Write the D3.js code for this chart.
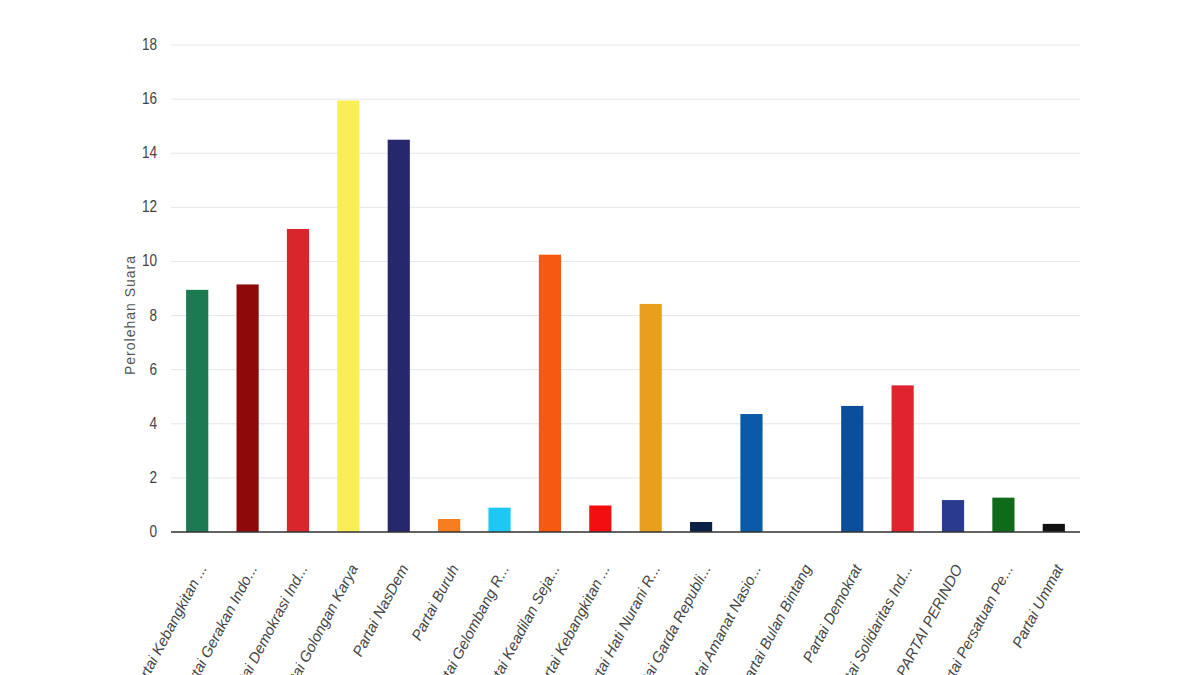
<!DOCTYPE html><html><head><meta charset="utf-8"><script src="https://cdn.jsdelivr.net/npm/d3@7"></script>
<style>body{margin:0;background:#fff}text{font-family:"Liberation Sans",Arial,sans-serif}</style></head><body><svg id="c" width="1200" height="675"></svg><script>
const categories=["Partai Kebangkitan ...","Partai Gerakan Indo...","Partai Demokrasi Ind...","Partai Golongan Karya","Partai NasDem","Partai Buruh","Partai Gelombang R...","Partai Keadilan Seja...","Partai Kebangkitan ...","Partai Hati Nurani R...","Partai Garda Republi...","Partai Amanat Nasio...","Partai Bulan Bintang","Partai Demokrat","Partai Solidaritas Ind...","PARTAI PERINDO","Partai Persatuan Pe...","Partai Ummat"];
const values=[8.95,9.15,11.2,15.95,14.5,0.48,0.9,10.25,0.98,8.43,0.37,4.36,0,4.66,5.42,1.18,1.27,0.3];
const colors=["#1b7a52","#8e0a0a","#d9262c","#f8ee55","#27286b","#f57c1f","#1ec8f5","#f65a10","#f30f0f","#e8a01c","#0b2145","#0b5aa7","#cccccc","#0b4f9c","#e0232e","#2a3b8f","#0f6b1a","#111111"];
const yTicks=[0,2,4,6,8,10,12,14,16,18];
const svg=d3.select("#c");
const idx=d3.range(categories.length);
const x=d3.scaleBand().domain(idx).range([171,1080]).paddingInner(0.56).paddingOuter(0.3);
const y=d3.scaleLinear().domain([0,18]).range([532,45]);
svg.append("g").selectAll("line").data(yTicks).join("line").attr("x1",171).attr("x2",1080).attr("y1",d=>y(d)).attr("y2",d=>y(d)).attr("stroke","#e6e6e6");
svg.append("g").selectAll("text").data(yTicks).join("text").attr("text-anchor","end").attr("font-size",16).attr("fill","#444").attr("transform",d=>`translate(157,${y(d)+5}) scale(0.85,1)`).text(d=>d);
svg.append("g").selectAll("rect").data(values).join("rect").attr("x",(d,i)=>x(i)).attr("width",x.bandwidth()).attr("y",d=>y(d)).attr("height",d=>y(0)-y(d)).attr("fill",(d,i)=>colors[i]);
svg.append("line").attr("x1",171).attr("x2",1080).attr("y1",y(0)).attr("y2",y(0)).attr("stroke","#333").attr("stroke-width",1.5);
svg.append("text").attr("transform","translate(135,315) rotate(-90)").attr("text-anchor","middle").attr("font-size",14).attr("fill","#555").attr("letter-spacing",1).text("Perolehan Suara");
svg.append("g").selectAll("text").data(categories).join("text").attr("transform",(d,i)=>`translate(${x(i)+x.bandwidth()/2+10},568) rotate(-62)`).attr("text-anchor","end").attr("font-size",15).attr("font-style","italic").attr("fill","#444").text(d=>d);
</script></body></html>
